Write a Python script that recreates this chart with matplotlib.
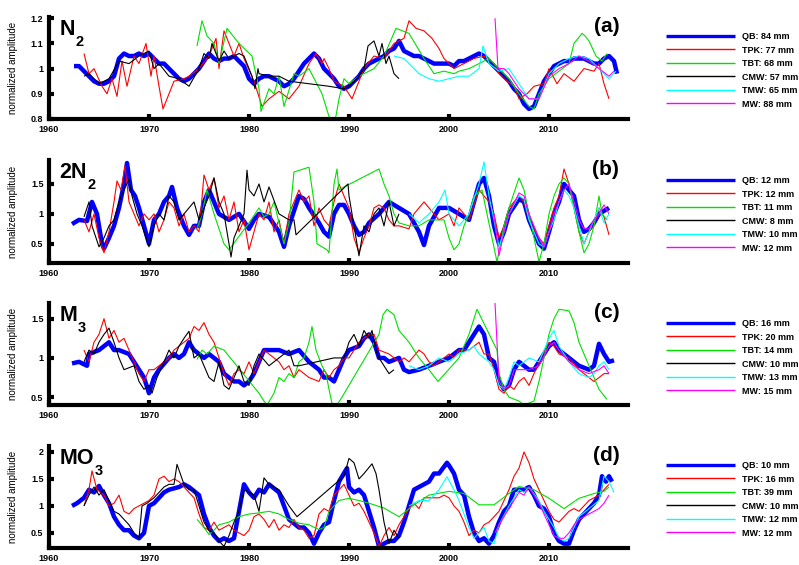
import matplotlib
matplotlib.use('Agg')
import matplotlib.pyplot as plt

plt.rcParams['font.family'] = ['Liberation Sans', 'DejaVu Sans']

# ---------------- data ----------------
station_names = ["QB", "TPK", "TBT", "CMW", "TMW", "MW"]
station_colors = ["#0000ff", "#ff0000", "#00e000", "#000000", "#00ffff", "#ff00ff"]

x_ticks = [1960, 1970, 1980, 1990, 2000, 2010]
x_ticklabels = ["1960", "1970", "1980", "1990", "2000", "2010"]

panel_title_main = ["N", "2N", "M", "MO"]
panel_title_sub = ["2", "2", "3", "3"]
panel_letters = ["(a)", "(b)", "(c)", "(d)"]

a_labels = ["QB: 84 mm", "TPK: 77 mm", "TBT: 68 mm", "CMW: 57 mm", "TMW: 65 mm", "MW: 88 mm"]
b_labels = ["QB: 12 mm", "TPK: 12 mm", "TBT: 11 mm", "CMW: 8 mm", "TMW: 10 mm", "MW: 12 mm"]
c_labels = ["QB: 16 mm", "TPK: 20 mm", "TBT: 14 mm", "CMW: 10 mm", "TMW: 13 mm", "MW: 15 mm"]
d_labels = ["QB: 10 mm", "TPK: 16 mm", "TBT: 39 mm", "CMW: 10 mm", "TMW: 12 mm", "MW: 12 mm"]

a_yticks = [0.8, 0.9, 1.0, 1.1, 1.2]
a_yticklabels = ["0.8", "0.9", "1", "1.1", "1.2"]
b_yticks = [0.5, 1.0, 1.5]
b_yticklabels = ["0.5", "1", "1.5"]
c_yticks = [0.5, 1.0, 1.5]
c_yticklabels = ["0.5", "1", "1.5"]
d_yticks = [0.5, 1.0, 1.5, 2.0]
d_yticklabels = ["0.5", "1", "1.5", "2"]

a_ylim = (0.8, 1.205)
b_ylim = (0.18, 1.9)
c_ylim = (0.4, 1.7)
d_ylim = (0.22, 2.11)

# ---- panel (a) N2 ----
a_qb = [(1962.5,1.01),(1963,1.01),(1963.5,0.99),(1964,0.97),(1964.5,0.95),(1965,0.94),(1965.5,0.94),(1966,0.95),(1966.5,0.97),
        (1967,1.04),(1967.5,1.06),(1968,1.05),(1968.5,1.05),(1969,1.06),(1969.5,1.05),(1970,1.06),(1970.5,1.04),(1971,1.02),
        (1971.5,1.02),(1972,1.0),(1972.5,0.98),(1973,0.96),(1973.5,0.95),(1974,0.96),(1974.5,0.98),(1975,1.0),(1975.5,1.03),
        (1976,1.06),(1976.5,1.04),(1977,1.03),(1977.5,1.04),(1978,1.04),(1978.5,1.05),(1979,1.03),(1979.5,1.01),(1980,0.96),
        (1980.5,0.94),(1981,0.96),(1981.5,0.97),(1982,0.97),(1982.5,0.96),(1983,0.95),(1983.5,0.93),(1984,0.94),(1984.5,0.96),
        (1985,0.99),(1985.5,1.02),(1986,1.04),(1986.5,1.06),(1987,1.04),(1987.5,1.0),(1988,0.98),(1988.5,0.96),(1989,0.93),
        (1989.5,0.92),(1990,0.93),(1990.5,0.95),(1991,0.97),(1991.5,1.0),(1992,1.02),(1992.5,1.03),(1993,1.04),(1993.5,1.05),
        (1994,1.07),(1994.5,1.08),(1995,1.11),(1995.5,1.07),(1996,1.06),(1996.5,1.05),(1997,1.05),(1997.5,1.04),(1998,1.03),
        (1998.5,1.02),(1999,1.02),(1999.5,1.02),(2000,1.02),(2000.5,1.01),(2001,1.03),(2001.5,1.03),(2002,1.04),(2002.5,1.05),
        (2003,1.06),(2003.5,1.05),(2004,1.03),(2004.5,1.01),(2005,0.99),(2005.5,0.97),(2006,0.95),(2006.5,0.92),(2007,0.9),
        (2007.5,0.86),(2008,0.84),(2008.5,0.85),(2009,0.9),(2009.5,0.95),(2010,0.98),(2010.5,1.01),(2011,1.02),(2011.5,1.03),
        (2012,1.03),(2012.5,1.04),(2013,1.04),(2013.5,1.04),(2014,1.03),(2014.5,1.02),(2015,1.02),(2015.5,1.04),(2016,1.05),
        (2016.5,1.03),(2016.8,0.98)]
a_tpk = [(1963.5,1.06),(1964,0.98),(1964.5,1.0),(1965.3,0.93),(1965.8,0.9),(1966.3,0.96),(1966.8,0.89),(1967.3,1.03),
         (1967.8,0.93),(1968.5,1.05),(1969,1.02),(1969.7,1.1),(1970.2,0.97),(1970.5,1.05),(1971,0.93),(1971.4,0.84),(1972,0.9),
         (1972.5,0.95),(1973.5,0.96),(1974,0.97),(1975,1.0),(1976,1.05),(1976.7,1.12),(1977,1.0),(1977.5,1.15),(1978.5,1.05),
         (1979,1.1),(1979.5,1.04),(1980.5,0.95),(1981.3,0.85),(1982,0.88),(1983,0.91),(1984,0.88),(1985,0.93),(1986,1.02),
         (1986.7,1.06),(1987.3,1.02),(1987.5,1.04),(1988,1.0),(1988.5,0.95),(1989.5,0.93),(1990.3,0.88),(1991,0.95),(1991.5,1.0),
         (1992.5,1.05),(1993.5,1.04),(1994.5,1.1),(1995.5,1.12),(1996,1.19),(1996.7,1.16),(1997.5,1.15),(1998.3,1.12),(1999,1.08),
         (1999.5,1.04),(2000,1.02),(2000.5,1.0),(2001.5,1.02),(2002.5,1.04),(2003.5,1.05),(2004.5,1.02),(2005,0.98),(2005.5,0.96),
         (2006.5,0.93),(2007,0.88),(2007.8,0.9),(2008.5,0.93),(2009.5,0.94),(2010,1.0),(2010.8,0.94),(2011.5,0.98),(2012.5,0.95),
         (2013.5,1.0),(2014.5,0.99),(2015,1.02),(2015.5,0.94),(2016,0.88)]
a_tbt = [(1974.8,1.09),(1975.3,1.19),(1975.8,1.13),(1976.5,1.1),(1977,1.02),(1977.8,1.16),(1979,1.1),(1980.3,1.05),(1981,0.92),
         (1981.2,0.83),(1982,0.92),(1982.5,0.9),(1983,0.97),(1983.5,0.85),(1984.5,0.98),(1985,0.97),(1986,1.0),(1987.3,0.9),
         (1988,0.81),(1988.6,0.79),(1989,0.88),(1989.5,0.96),(1990,0.94),(1991,0.97),(1992.5,1.0),(1993.5,1.05),(1994.7,1.16),
         (1996,1.14),(1997.5,1.04),(1998.5,0.98),(1999.5,0.99),(2000.5,0.98),(2001,0.99),(2002,1.0),(2003,1.02),(2004,1.04),
         (2005,1.0),(2006,0.96),(2007,0.9),(2008,0.85),(2008.5,0.84),(2009,0.9),(2010,0.96),(2011,0.99),(2012,1.02),(2012.5,1.1),
         (2013.3,1.14),(2013.6,1.13),(2014,1.11),(2014.7,1.05),(2015.3,1.03),(2015.8,1.06)]
a_cmw = [(1963.5,0.97),(1964,0.98),(1965,0.94),(1966,0.96),(1967,1.03),(1968,1.02),(1969,1.05),(1970,1.07),(1970.5,1.0),
         (1971,1.02),(1972,0.97),(1973,0.96),(1974,0.93),(1975,1.0),(1975.5,1.06),(1976,1.04),(1976.3,1.1),(1977,1.03),(1977.5,1.07),
         (1978,1.04),(1979,1.06),(1979.5,1.05),(1980,1.0),(1980.3,0.97),(1980.6,0.92),(1980.9,1.0),(1981,0.98),(1982,0.97),
         (1983,0.97),(1984,0.95),(1988,0.93),(1989.5,0.92),(1990,0.93),(1991,0.97),(1991.5,1.0),(1991.9,1.09),(1992.5,1.11),
         (1993,1.05),(1993.3,1.1),(1993.7,1.02),(1994,1.05),(1994.5,0.98),(1995,0.96)]
a_tmw = [(1994.5,1.05),(1995.5,1.04),(1996,1.02),(1997,0.98),(1998,0.96),(1999,0.95),(2000,0.96),(2001,0.97),(2002,0.97),
         (2003,1.0),(2003.4,1.09),(2004,1.02),(2005,0.99),(2006,1.0),(2007,0.94),(2008,0.88),(2009,0.88),(2010,0.98),(2011,1.02),
         (2012,1.04),(2013,1.05),(2014,1.04),(2015,1.0),(2016,0.96),(2016.7,0.99)]
a_mw = [(2004.6,1.2),(2004.9,1.0),(2005.5,1.0),(2006,0.98),(2007,0.92),(2008,0.88),(2009,0.88),(2010,0.97),(2011,1.0),
        (2012,1.02),(2013,1.05),(2014,1.03),(2015,1.0),(2016,0.97),(2016.5,0.99)]

# ---- panel (b) 2N2 ----
b_qb = [(1962.3,0.83),(1963,0.9),(1963.8,0.88),(1964.3,1.2),(1964.8,1.0),(1965.3,0.5),(1965.5,0.42),(1966,0.6),(1966.5,0.8),
        (1967,1.1),(1967.5,1.5),(1967.8,1.85),(1968.2,1.4),(1968.6,1.3),(1969,1.1),(1969.5,0.8),(1970,0.5),(1970.5,0.9),(1971,1.0),
        (1971.5,1.2),(1972,1.3),(1972.3,1.45),(1972.8,1.1),(1973.5,0.8),(1974,0.65),(1974.5,0.8),(1975,0.8),(1975.5,1.2),(1976,1.4),
        (1976.5,1.2),(1977,1.0),(1978,0.9),(1979,1.0),(1980,0.75),(1980.5,0.9),(1981,1.0),(1982,0.95),(1983,0.7),(1983.5,0.45),
        (1984,0.8),(1985,1.3),(1985.5,1.25),(1986,1.1),(1987,0.85),(1987.5,0.7),(1988,0.62),(1988.5,1.0),(1989,1.15),(1989.5,1.15),
        (1990,1.0),(1990.5,0.8),(1991,0.65),(1991.5,0.7),(1992,0.85),(1993,1.0),(1994,1.2),(1995,1.1),(1996,1.0),(1997,0.7),
        (1997.5,0.48),(1998,0.8),(1999,1.1),(2000,1.1),(2001,1.0),(2002,0.9),(2002.5,1.2),(2003,1.5),(2003.5,1.6),(2004,1.3),
        (2004.5,0.8),(2005,0.5),(2005.5,0.7),(2006,1.0),(2007,1.25),(2007.5,1.2),(2008,0.9),(2009,0.5),(2009.5,0.42),(2010,0.7),
        (2010.5,1.0),(2011,1.2),(2011.5,1.5),(2012,1.4),(2012.5,1.3),(2013,0.9),(2013.5,0.7),(2014,0.75),(2014.5,0.85),(2015,1.0),
        (2015.5,1.05),(2016,1.1)]
b_tpk = [(1963.5,0.9),(1964,0.7),(1964.5,1.0),(1965,0.6),(1965.5,0.35),(1966,0.7),(1966.5,1.2),(1966.8,1.55),(1967.2,1.4),
         (1967.6,1.8),(1968,1.2),(1968.5,1.0),(1969,0.8),(1969.5,1.0),(1970,0.9),(1970.5,1.0),(1971,0.7),(1971.5,0.9),(1972,1.2),
         (1972.5,1.1),(1973,0.8),(1973.5,1.0),(1974,0.7),(1974.5,0.8),(1975,0.7),(1975.5,1.65),(1976,1.4),(1976.5,1.6),(1977,1.1),
         (1977.5,1.3),(1978,0.9),(1978.5,1.2),(1979,0.7),(1979.5,0.9),(1980,0.4),(1980.5,0.7),(1981,1.0),(1981.5,0.9),(1982,1.2),
         (1982.5,0.7),(1983,0.9),(1983.5,0.5),(1984,1.0),(1984.5,1.2),(1985,1.4),(1985.5,1.2),(1986,1.3),(1986.5,0.8),(1987,1.1),
         (1987.5,0.9),(1988,0.8),(1988.5,1.2),(1989,1.5),(1989.5,1.3),(1990,1.1),(1990.5,0.6),(1991,0.35),(1991.5,0.6),(1992,0.8),
         (1992.5,1.1),(1993,1.15),(1993.5,1.1),(1994,0.9),(1994.5,0.8),(1995,0.8),(1996,0.75),(1996.5,1.0),(1997,1.1),(1997.5,1.2),
         (1998,1.1),(1999,0.9),(2000,1.0),(2000.5,0.8),(2001,1.1),(2001.5,1.0),(2002,0.9),(2003,1.4),(2003.5,1.3),(2004,1.2),
         (2004.5,1.0),(2005,0.6),(2005.5,0.8),(2006,1.1),(2007,1.3),(2007.5,1.2),(2008,0.9),(2009,0.6),(2009.5,0.5),(2010,0.8),
         (2010.5,1.1),(2011,1.3),(2011.5,1.75),(2012,1.5),(2012.5,1.1),(2013,0.7),(2013.5,0.5),(2014,0.7),(2014.5,0.8),(2015,1.1),
         (2015.5,0.95),(2016,0.65)]
b_tbt = [(1974.8,0.75),(1975.3,1.0),(1975.8,1.4),(1976.5,1.0),(1977.5,0.5),(1978,0.4),(1980,0.85),(1981,1.1),(1981.5,0.95),
         (1982,1.0),(1982.5,1.2),(1983.5,0.5),(1984,0.85),(1984.5,1.7),(1986,1.78),(1986.5,1.2),(1986.8,0.5),(1987.8,0.4),
         (1988,0.35),(1988.5,1.5),(1988.8,1.75),(1989,1.4),(1989.5,1.45),(1993,1.75),(1993.5,1.5),(1994,1.3),(1994.5,1.0),
         (1995,0.85),(1996,0.8),(1997,0.8),(1998,0.9),(1999.5,0.9),(2000,0.6),(2000.5,0.4),(2001,0.5),(2001.5,0.8),(2002,1.0),
         (2002.5,1.3),(2003.3,1.4),(2004.8,0.2),(2005.5,0.8),(2006,1.1),(2007,1.6),(2007.5,1.4),(2008,1.0),(2008.5,0.6),(2009,0.2),
         (2009.5,0.5),(2010,1.0),(2010.5,1.3),(2011,1.5),(2011.5,1.6),(2012,1.5),(2012.5,1.1),(2013,0.7),(2013.5,0.35),(2014,0.5),
         (2014.5,0.8),(2015,1.3),(2015.3,1.0),(2015.8,0.9)]
b_cmw = [(1963.5,0.95),(1964,1.2),(1964.3,0.8),(1965,0.45),(1965.5,0.6),(1966,0.8),(1966.5,0.9),(1967,1.2),(1967.5,1.4),
         (1968,1.58),(1968.3,1.3),(1968.8,1.0),(1969.3,0.8),(1970,0.45),(1970.5,0.8),(1971,1.0),(1971.5,0.9),(1972,1.3),(1972.5,1.2),
         (1973,0.9),(1974,1.1),(1974.5,1.2),(1975,0.9),(1975.5,1.1),(1976,1.3),(1976.5,1.6),(1977,1.2),(1977.5,1.0),(1978,0.5),
         (1978.2,0.28),(1978.5,0.6),(1979,0.8),(1979.5,1.0),(1979.8,1.73),(1980,1.4),(1980.5,1.3),(1981,1.5),(1981.5,1.2),
         (1982,1.45),(1983,1.0),(1984,0.9),(1984.5,0.9),(1984.7,0.65),(1989.9,1.5),(1990,1.3),(1990.5,0.8),(1991,0.3),
         (1991.5,0.8),(1992,0.7),(1992.5,1.0),(1993,1.1),(1993.5,0.8),(1994,1.2),(1994.5,0.8),(1995,1.0)]
b_tmw = [(1996,1.0),(1997,0.85),(1998,1.0),(1999,1.2),(1999.6,1.4),(2000,1.0),(2001,0.8),(2002,1.0),(2003,1.5),(2003.5,1.87),
         (2004,1.3),(2004.5,0.9),(2005,0.45),(2005.5,0.7),(2006,1.0),(2007,1.3),(2007.5,1.25),(2008,0.9),(2009,0.5),(2009.5,0.45),
         (2010,0.7),(2010.5,0.9),(2011,1.2),(2011.5,1.4),(2012,1.3),(2012.5,1.1),(2013,0.8),(2013.5,0.5),(2014,0.7),(2014.5,0.9),
         (2015,1.1),(2015.5,0.85),(2016,1.0)]
b_mw = [(2004.5,1.0),(2005,0.3),(2005.5,0.7),(2006,1.0),(2007,1.35),(2007.5,1.3),(2008,1.0),(2009,0.6),(2009.5,0.45),(2010,0.7),
        (2010.5,1.0),(2011,1.2),(2011.5,1.4),(2012,1.5),(2012.5,1.2),(2013,0.9),(2013.5,0.75),(2014,0.75),(2014.5,0.9),(2015,1.0),
        (2015.5,1.15),(2016,1.0)]

# ---- panel (c) M3 ----
c_qb = [(1962.3,0.93),(1963,0.95),(1963.8,0.9),(1964,1.05),(1965,1.1),(1966,1.2),(1966.5,1.1),(1967,1.1),(1968,1.05),
        (1968.5,0.95),(1969,0.85),(1969.5,0.75),(1970,0.55),(1970.5,0.75),(1971,0.85),(1972,1.0),(1972.5,1.05),(1973,1.0),
        (1973.5,1.05),(1974,1.2),(1974.5,1.1),(1975,1.05),(1975.5,1.0),(1976,1.05),(1977,0.95),(1977.5,0.8),(1978,0.75),
        (1978.5,0.7),(1979,0.7),(1979.5,0.65),(1980,0.7),(1980.5,0.8),(1981,0.95),(1981.5,1.1),(1982,1.1),(1983,1.1),(1984,1.05),
        (1985,1.1),(1986,0.95),(1987,0.85),(1987.5,0.75),(1988,0.75),(1988.5,0.7),(1989,0.85),(1989.5,1.0),(1990,1.1),(1991,1.15),
        (1991.5,1.25),(1992,1.3),(1992.5,1.2),(1993,1.0),(1993.5,1.0),(1994,0.95),(1995,1.0),(1995.5,0.85),(1996,0.82),(1997,0.85),
        (1998,0.9),(1999,0.95),(2000,1.0),(2001,1.1),(2001.5,1.1),(2002,1.2),(2003,1.4),(2003.5,1.3),(2004,1.0),(2004.5,0.95),
        (2005,0.7),(2005.5,0.6),(2006,0.65),(2006.5,0.85),(2007,0.95),(2008,0.85),(2008.5,0.85),(2009,0.95),(2010,1.15),
        (2010.5,1.2),(2011,1.1),(2012,1.0),(2013,0.9),(2014,0.85),(2014.5,0.9),(2015,1.18),(2015.5,1.05),(2016,0.95),(2016.5,0.97)]
c_tpk = [(1963.5,1.1),(1964,0.95),(1964.5,1.2),(1965,1.3),(1965.5,1.5),(1966,1.25),(1966.5,1.35),(1967,1.2),(1967.5,1.25),
         (1968,1.1),(1968.5,0.95),(1969,0.8),(1969.5,0.7),(1970,0.85),(1970.5,0.85),(1971,0.9),(1971.5,0.95),(1972,1.0),
         (1972.5,1.1),(1973,1.15),(1973.5,1.2),(1974,1.25),(1974.5,1.4),(1975,1.35),(1975.5,1.45),(1976,1.3),(1976.5,1.2),
         (1977,1.0),(1977.5,0.8),(1978,0.65),(1978.5,0.8),(1979,0.85),(1979.5,0.8),(1980,0.95),(1980.5,0.8),(1981,0.95),
         (1981.5,1.1),(1982,1.05),(1983,0.95),(1983.5,0.85),(1984,0.9),(1984.5,0.75),(1985,0.85),(1985.5,0.8),(1986,0.75),
         (1987,0.7),(1987.5,0.85),(1988,0.75),(1988.5,0.85),(1989,0.9),(1989.5,1.0),(1990,1.0),(1990.5,1.1),(1991,1.2),
         (1991.5,1.25),(1992,1.3),(1992.5,1.3),(1993,1.1),(1994,1.05),(1995,0.95),(1995.5,1.0),(1996,0.95),(1997,1.1),
         (1997.5,1.05),(1998,0.95),(1998.5,0.9),(1999,0.95),(2000,1.05),(2000.5,1.0),(2001,1.1),(2002,1.1),(2002.5,1.15),
         (2003,1.2),(2003.5,1.05),(2004,1.05),(2004.5,0.85),(2005,0.6),(2005.5,0.55),(2006,0.65),(2006.5,0.6),(2007,0.7),
         (2007.5,0.75),(2008,0.65),(2008.5,0.8),(2009,0.95),(2010,1.2),(2010.5,1.15),(2011,1.05),(2012,1.0),(2013,0.85),
         (2014,0.75),(2014.5,0.7),(2015,0.75),(2015.5,0.8),(2016,0.8)]
c_tbt = [(1974.8,0.98),(1975.3,1.1),(1975.8,1.05),(1976.5,1.15),(1977.5,1.1),(1981,0.55),(1981.5,0.45),(1981.8,0.4),
         (1982.5,0.55),(1983,0.75),(1983.5,0.7),(1984,0.8),(1984.5,0.75),(1985,0.95),(1985.5,1.0),(1986,1.2),(1986.3,1.4),
         (1986.7,1.1),(1987.3,0.9),(1987.7,0.8),(1988,0.6),(1988.3,0.42),(1988.8,0.4),(1989.3,0.5),(1993,1.3),(1993.4,1.55),
         (1993.8,1.62),(1994.5,1.55),(1995,1.35),(1996,1.2),(1997,1.0),(1998,0.85),(1998.9,0.7),(2001,1.0),(2002,1.3),
         (2002.8,1.62),(2004.8,1.1),(2005,0.8),(2005.5,0.6),(2006,0.5),(2007,0.45),(2007.5,0.4),(2008.5,0.45),(2009,0.7),
         (2009.5,1.0),(2010,1.3),(2010.5,1.5),(2011,1.62),(2012,1.6),(2012.5,1.45),(2013,1.2),(2014,0.9),(2015,0.6),(2015.8,0.47)]
c_cmw = [(1963.5,0.95),(1964,1.1),(1964.5,1.05),(1965,1.2),(1965.5,1.3),(1966,1.38),(1966.5,1.2),(1967,1.0),(1967.5,0.85),
         (1968.5,0.9),(1969,0.7),(1969.5,0.6),(1970,0.65),(1970.3,0.55),(1970.8,0.75),(1971.5,0.95),(1972,1.1),(1972.5,1.0),
         (1973,1.15),(1973.5,1.25),(1974,1.34),(1974.5,1.0),(1975,1.05),(1975.5,0.9),(1976,0.75),(1976.5,0.7),(1977,0.95),
         (1977.5,0.65),(1978,0.6),(1978.5,0.75),(1979,0.9),(1979.5,0.7),(1980,0.65),(1980.5,0.9),(1981,1.05),(1982,0.9),
         (1984,1.1),(1984.5,0.9),(1985,0.9),(1988.5,1.0),(1989.5,1.0),(1990,1.2),(1990.5,1.3),(1991,1.15),(1991.5,1.35),
         (1992,1.25),(1992.3,1.35),(1992.7,1.1),(1993,1.0),(1993.5,0.9),(1994,0.8),(1994.5,0.85)]
c_tmw = [(1996,0.9),(1997,0.85),(1998,0.9),(1999,1.0),(2000,0.95),(2001,1.05),(2002,1.1),(2002.5,1.15),(2003,1.05),(2004,0.95),
         (2004.5,0.85),(2005,0.65),(2005.5,0.6),(2006,0.75),(2006.5,0.95),(2007,0.9),(2008,1.0),(2009,0.95),(2010,1.25),
         (2010.5,1.35),(2011,1.15),(2012,0.95),(2013,0.8),(2014,0.75),(2014.5,0.8),(2015,0.9),(2015.5,0.95),(2016,0.85)]
c_mw = [(2004.6,1.7),(2004.8,1.2),(2005,0.7),(2005.5,0.6),(2006,0.65),(2006.5,0.85),(2007,0.85),(2008,0.85),(2009,0.9),
        (2010,1.15),(2010.5,1.2),(2011,1.1),(2012,0.95),(2013,0.85),(2014,0.8),(2015,0.85),(2015.5,0.9),(2016,0.8)]

# ---- panel (d) MO3 ----
d_qb = [(1962.3,1.0),(1962.8,1.05),(1963.5,1.15),(1964,1.3),(1964.5,1.25),(1965,1.37),(1965.5,1.2),(1966,1.05),(1966.5,0.8),
        (1967,0.65),(1967.5,0.55),(1968,0.55),(1968.5,0.45),(1969,0.4),(1969.5,0.5),(1970,1.0),(1970.5,1.05),(1971,1.15),
        (1971.5,1.25),(1972,1.3),(1973,1.35),(1973.5,1.4),(1974,1.35),(1975,1.2),(1975.5,0.85),(1976,0.6),(1976.5,0.45),
        (1977,0.35),(1977.5,0.4),(1978,0.35),(1978.5,0.4),(1979,0.9),(1979.5,1.4),(1980,1.25),(1980.5,1.15),(1981,1.3),
        (1981.5,1.25),(1982,1.4),(1983,1.25),(1983.5,1.0),(1984,0.75),(1985,0.6),(1985.5,0.6),(1986,0.5),(1986.5,0.3),(1987,0.5),
        (1987.5,0.65),(1988,0.7),(1988.5,1.1),(1989,1.45),(1989.8,1.7),(1990,1.35),(1990.5,1.25),(1991,1.3),(1991.5,1.2),
        (1992,0.9),(1992.5,0.6),(1993,0.25),(1993.5,0.3),(1994,0.35),(1994.5,0.35),(1995,0.45),(1995.5,0.7),(1996,1.0),
        (1996.5,1.3),(1997,1.35),(1997.5,1.4),(1998,1.45),(1998.5,1.6),(1999,1.6),(1999.8,1.8),(2000,1.75),(2000.5,1.6),
        (2001,1.3),(2001.5,1.2),(2002,0.8),(2002.5,0.5),(2003,0.35),(2003.5,0.4),(2004,0.3),(2004.5,0.45),(2005,0.7),(2005.5,0.9),
        (2006,1.0),(2006.5,1.3),(2007,1.3),(2007.5,1.3),(2008,1.35),(2008.5,1.2),(2009,1.0),(2009.5,0.95),(2010,0.8),(2010.5,0.5),
        (2011,0.35),(2011.5,0.3),(2012,0.3),(2012.5,0.55),(2013,0.75),(2013.5,0.85),(2014,0.95),(2014.5,1.05),(2015,1.2),
        (2015.3,1.55),(2015.7,1.45),(2016,1.55),(2016.3,1.45)]
d_tpk = [(1963.5,1.0),(1964,1.3),(1964.3,1.65),(1964.8,1.3),(1965.5,1.2),(1966,1.0),(1966.5,1.05),(1967,1.2),(1967.5,0.9),
         (1968,0.85),(1968.5,0.95),(1969,1.0),(1969.5,1.05),(1970,1.1),(1970.5,1.2),(1971,1.5),(1971.5,1.55),(1972,1.45),
         (1972.5,1.5),(1973,1.45),(1973.5,1.35),(1974,1.25),(1974.5,1.15),(1975,0.85),(1975.5,0.6),(1976,0.55),(1976.5,0.7),
         (1977,0.55),(1977.5,0.6),(1978,0.65),(1978.5,0.55),(1979,0.5),(1979.5,0.45),(1980,0.55),(1980.5,0.8),(1981,0.85),
         (1981.5,0.75),(1982,0.6),(1982.5,0.75),(1983,0.55),(1983.5,0.65),(1984,0.6),(1984.5,0.75),(1985,0.6),(1985.5,0.55),
         (1986,0.4),(1986.5,0.45),(1987,0.85),(1987.5,0.95),(1988,0.9),(1988.5,1.2),(1989,1.3),(1989.5,1.4),(1990,1.2),
         (1990.5,1.0),(1991,1.05),(1991.5,0.9),(1992,0.7),(1992.5,0.5),(1993,0.25),(1993.5,0.45),(1994,0.6),(1994.5,0.45),
         (1995,0.65),(1995.5,0.8),(1996,0.95),(1996.5,1.05),(1997,0.95),(1997.5,1.15),(1998,1.15),(1999,1.15),(1999.5,1.2),
         (2000,1.15),(2000.5,1.0),(2001,0.9),(2001.5,0.7),(2002,0.45),(2002.5,0.55),(2003,0.5),(2003.5,0.65),(2004,0.7),
         (2004.5,0.8),(2005,0.9),(2005.5,1.1),(2006,1.3),(2006.5,1.55),(2007,1.7),(2007.5,2.0),(2008,1.8),(2008.5,1.5),
         (2009,1.3),(2009.5,1.1),(2010,0.9),(2010.5,0.75),(2011,0.7),(2011.5,0.8),(2012,0.9),(2012.5,0.95),(2013,0.9),
         (2013.5,1.0),(2014,1.1),(2015,1.2),(2015.5,1.3),(2016,1.4)]
d_tbt = [(1974.8,0.75),(1975.5,0.6),(1976,0.47),(1976.5,0.55),(1977,0.65),(1978,0.7),(1979,0.8),(1980,0.85),(1981,0.87),
         (1982,0.9),(1983,0.85),(1984,0.75),(1985,0.68),(1986,0.65),(1987,0.56),(1987.5,0.6),(1988,0.9),(1989,1.1),(1990,1.14),
         (1991,1.1),(1992,1.05),(1993.5,0.96),(1995,0.8),(1996.5,1.02),(1998,1.2),(2000,1.27),(2001.5,1.23),(2003,1.02),
         (2004.5,1.02),(2006,1.23),(2007,1.36),(2008.5,1.3),(2010,1.14),(2011.5,0.95),(2013,1.14),(2014.5,1.23),(2015.5,1.27),
         (2016,1.35)]
d_cmw = [(1963.5,1.0),(1964,1.2),(1964.5,1.35),(1965,1.2),(1965.5,1.3),(1966,1.1),(1966.5,0.9),(1967,0.85),(1967.5,0.75),
         (1968,0.65),(1968.5,0.5),(1969,0.4),(1969.3,1.0),(1969.8,1.05),(1970.5,1.15),(1971,1.25),(1971.5,1.35),(1972,1.4),
         (1972.5,1.4),(1972.8,1.77),(1973.5,1.4),(1974,1.3),(1974.5,1.3),(1975,1.0),(1975.5,0.7),(1976,0.55),(1976.5,0.5),
         (1977,0.35),(1977.5,0.25),(1978,0.45),(1978.5,0.7),(1979,0.9),(1979.5,1.3),(1980,1.25),(1980.5,1.2),(1981,0.9),
         (1981.5,1.52),(1982,1.4),(1983,1.3),(1984,1.0),(1984.8,0.8),(1989.5,1.55),(1990,1.88),(1990.5,1.8),(1991,1.5),
         (1991.5,1.6),(1992.3,1.78),(1992.7,1.6),(1993,1.3),(1993.5,0.7),(1994,0.3),(1994.5,0.55),(1995,0.4)]
d_tmw = [(1996,1.0),(1997,1.1),(1998,1.1),(1999,1.3),(1999.8,1.54),(2000.5,1.3),(2001,1.1),(2002,0.6),(2002.5,0.4),(2003,0.5),
         (2003.5,0.6),(2004,0.35),(2004.5,0.3),(2005,0.65),(2006,1.0),(2007,1.3),(2007.5,1.25),(2008,1.35),(2009,1.1),(2009.5,0.9),
         (2010,0.75),(2010.5,0.6),(2011,0.4),(2011.5,0.35),(2012,0.4),(2012.5,0.6),(2013,0.8),(2014,0.95),(2015,1.1),(2015.5,1.55),
         (2016,1.45),(2016.5,1.25)]
d_mw = [(2004.6,0.5),(2005,0.65),(2006,0.95),(2007,1.25),(2007.5,1.2),(2008,1.35),(2009,1.05),(2009.5,0.85),(2010,0.65),
        (2010.5,0.45),(2011,0.4),(2011.5,0.4),(2012,0.5),(2012.5,0.65),(2013,0.75),(2014,0.85),(2015,0.95),(2015.5,1.05),(2016,1.2)]

panel_series = [
    [a_qb, a_tpk, a_tbt, a_cmw, a_tmw, a_mw],
    [b_qb, b_tpk, b_tbt, b_cmw, b_tmw, b_mw],
    [c_qb, c_tpk, c_tbt, c_cmw, c_tmw, c_mw],
    [d_qb, d_tpk, d_tbt, d_cmw, d_tmw, d_mw],
]
panel_labels = [a_labels, b_labels, c_labels, d_labels]
panel_yticks = [a_yticks, b_yticks, c_yticks, d_yticks]
panel_yticklabels = [a_yticklabels, b_yticklabels, c_yticklabels, d_yticklabels]
panel_ylims = [a_ylim, b_ylim, c_ylim, d_ylim]

# ---------------- layout ----------------
W, H = 799, 565
fig = plt.figure(figsize=(W / 100, H / 100), dpi=100)
ax_left, ax_right = 49, 628
ax_tb = [(17, 119), (160, 263), (303, 405), (446, 548)]
legend_tops = [32, 176, 319, 461]
series_lw = [3.2, 0.8, 0.8, 0.8, 0.8, 0.8]

for i in range(4):
    top, bot = ax_tb[i]
    ax = fig.add_axes([ax_left / W, 1 - bot / H, (ax_right - ax_left) / W, (bot - top) / H])
    handles = []
    for j, series in enumerate(panel_series[i]):
        xs = [p[0] for p in series]
        ys = [p[1] for p in series]
        ln, = ax.plot(xs, ys, color=station_colors[j], lw=series_lw[j],
                      solid_joinstyle='round', solid_capstyle='butt')
        handles.append(ln)
    ax.set_xlim(1960, 2017.9)
    ax.set_ylim(*panel_ylims[i])
    for s in ['top', 'right']:
        ax.spines[s].set_visible(False)
    for s in ['left', 'bottom']:
        ax.spines[s].set_linewidth(3)
    ax.set_xticks(x_ticks)
    ax.set_xticklabels(x_ticklabels)
    ax.set_yticks(panel_yticks[i])
    ax.set_yticklabels(panel_yticklabels[i])
    ax.tick_params(direction='in', length=3.5, width=3, labelsize=6.5, pad=4)
    for lab in ax.get_xticklabels() + ax.get_yticklabels():
        lab.set_fontweight('bold')
    ax.set_ylabel('normalized amplitude', fontsize=7)
    ax.yaxis.set_label_coords(-0.054, 0.5)
    main_t = ax.text(0.018, 1.0 - 2.0 / (bot - top), panel_title_main[i], transform=ax.transAxes,
                     fontsize=15.5, fontweight='bold', va='top', ha='left')
    ax.annotate(panel_title_sub[i], xy=(1.0, 0.0), xycoords=main_t, xytext=(0.5, 3.5),
                textcoords='offset points', fontsize=10.5, fontweight='bold', va='top', ha='left')
    ax.text(0.985, 1.0, panel_letters[i], transform=ax.transAxes, fontsize=15, fontweight='bold',
            va='top', ha='right')
    leg = ax.legend(handles, panel_labels[i], loc='upper left',
                    bbox_to_anchor=(666 / W, 1 - legend_tops[i] / H), bbox_transform=fig.transFigure,
                    frameon=False, prop=dict(weight='bold', size=6.5), handlelength=7.6, handletextpad=0.8,
                    borderpad=0, borderaxespad=0, labelspacing=0.5)
    for k, lh in enumerate(leg.get_lines()):
        lh.set_linewidth(2.4 if k == 0 else 1.0)

fig.savefig('out.png', dpi=100)
